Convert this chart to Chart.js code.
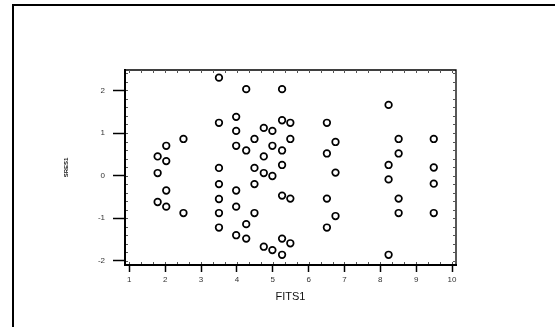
<!DOCTYPE html>
<html>
<head>
<meta charset="utf-8">
<script src="https://cdn.jsdelivr.net/npm/chart.js@4.4.1/dist/chart.umd.min.js"></script>
<style>
    html, body { margin: 0; padding: 0; background: #fff; }
    #wrap { position: relative; width: 555px; height: 327px; }
</style>
</head>
<body>
<div id="wrap"><canvas id="chart-resid" width="555" height="327"></canvas></div>
<script>
// values
const fits1 = [
    1.79, 1.79, 1.79,
    2.03, 2.03, 2.03, 2.03,
    2.51, 2.51,
    3.50, 3.50, 3.50, 3.50, 3.50, 3.50, 3.50,
    3.98, 3.98, 3.98, 3.98, 3.98, 3.98,
    4.26, 4.26, 4.26, 4.26,
    4.49, 4.49, 4.49, 4.49,
    4.75, 4.75, 4.75, 4.75,
    4.99, 4.99, 4.99, 4.99,
    5.26, 5.26, 5.26, 5.26, 5.26, 5.26, 5.26,
    5.49, 5.49, 5.49, 5.49,
    6.51, 6.51, 6.51, 6.51,
    6.75, 6.75, 6.75,
    8.23, 8.23, 8.23, 8.23,
    8.51, 8.51, 8.51, 8.51,
    9.49, 9.49, 9.49, 9.49
];
const sres1 = [
    0.45, 0.06, -0.62,
    0.70, 0.34, -0.35, -0.73,
    0.86, -0.88,
    2.30, 1.24, 0.18, -0.20, -0.55, -0.88, -1.22,
    1.38, 1.05, 0.70, -0.35, -0.73, -1.40,
    2.03, 0.59, -1.14, -1.48,
    0.86, 0.18, -0.20, -0.88,
    1.12, 0.45, 0.06, -1.67,
    1.05, 0.70, -0.01, -1.75,
    2.03, 1.30, 0.59, 0.25, -0.47, -1.48, -1.86,
    1.24, 0.86, -0.54, -1.59,
    1.24, 0.52, -0.54, -1.22,
    0.79, 0.07, -0.95,
    1.66, 0.25, -0.09, -1.86,
    0.86, 0.52, -0.54, -0.88,
    0.86, 0.19, -0.19, -0.88
];
const xTicks = [1, 2, 3, 4, 5, 6, 7, 8, 9, 10];
const yTicks = [-2, -1, 0, 1, 2];
const xTitle = 'FITS1';
const yTitle = 'SRES1';

const fontFamily = '"Liberation Sans", Arial, sans-serif';

// outer frame + top/right border + small inner ticks
const framePlugin = {
    id: 'frame',
    beforeDraw(chart) {
        const ctx = chart.ctx;
        ctx.save();
        ctx.strokeStyle = '#000';
        ctx.lineWidth = 2;
        ctx.beginPath();
        ctx.moveTo(13, 327);
        ctx.lineTo(13, 5);
        ctx.lineTo(555, 5);
        ctx.stroke();
        ctx.restore();
    },
    afterDraw(chart) {
        const ctx = chart.ctx;
        const a = chart.chartArea;
        const xs = chart.scales.x, ys = chart.scales.y;
        ctx.save();
        ctx.strokeStyle = '#000';
        ctx.lineWidth = 1.3;
        ctx.beginPath();
        ctx.moveTo(a.left, a.top);
        ctx.lineTo(a.right, a.top);
        ctx.lineTo(a.right, a.bottom);
        ctx.stroke();

        ctx.strokeStyle = '#555';
        ctx.lineWidth = 1;
        ctx.beginPath();
        for (let v = -2; v <= 2.4; v += 0.2) {
            const py = Math.round(ys.getPixelForValue(v)) + 0.5;
            if (py < a.top + 2 || py > a.bottom - 2) continue;
            ctx.moveTo(a.left + 1, py); ctx.lineTo(a.left + 3, py);
            ctx.moveTo(a.right - 3, py); ctx.lineTo(a.right, py);
        }
        for (let v = 1; v <= 10.1; v += 1 / 3) {
            const px = Math.round(xs.getPixelForValue(v)) + 0.5;
            if (px < a.left + 2 || px > a.right - 2) continue;
            ctx.moveTo(px, a.top); ctx.lineTo(px, a.top + 3);
            ctx.moveTo(px, a.bottom - 3); ctx.lineTo(px, a.bottom - 1);
        }
        ctx.stroke();
        ctx.restore();
    }
};

function drawResidPlot(id) {
    const ctx = document.getElementById(id);
    return new Chart(ctx, {
        type: 'scatter',
        data: {
            datasets: [{
                label: yTitle,
                data: fits1.map((x, i) => ({ x: x, y: sres1[i] })),
                backgroundColor: '#fff',
                borderColor: '#000',
                borderWidth: 1.7,
                pointRadius: 3.3,
                pointHoverRadius: 3.3
            }]
        },
        options: {
            responsive: false,
            animation: false,
            events: [],
            layout: {
                padding: { left: 55, top: 70, right: 99, bottom: 17 }
            },
            plugins: {
                legend: { display: false },
                tooltip: { enabled: false }
            },
            scales: {
                x: {
                    type: 'linear',
                    min: 0.88,
                    max: 10.11,
                    afterFit: function (scale) { scale.height = 45; },
                    afterBuildTicks: function (scale) {
                        scale.ticks = xTicks.map(v => ({ value: v }));
                    },
                    grid: {
                        drawOnChartArea: false,
                        drawTicks: true,
                        tickLength: 7,
                        tickColor: '#000',
                        tickWidth: 1.5
                    },
                    border: { display: true, color: '#000', width: 2 },
                    ticks: {
                        color: '#333',
                        padding: 3,
                        maxRotation: 0,
                        font: { family: fontFamily, size: 8 }
                    },
                    title: {
                        display: true,
                        text: xTitle,
                        color: '#111',
                        padding: { top: 0, bottom: 6 },
                        font: { family: fontFamily, size: 11 }
                    }
                },
                y: {
                    type: 'linear',
                    min: -2.1,
                    max: 2.48,
                    afterFit: function (scale) { scale.width = 70; },
                    afterBuildTicks: function (scale) {
                        scale.ticks = yTicks.map(v => ({ value: v }));
                    },
                    grid: {
                        drawOnChartArea: false,
                        drawTicks: true,
                        tickLength: 12,
                        tickColor: '#000',
                        tickWidth: 1.5
                    },
                    border: { display: true, color: '#000', width: 2 },
                    ticks: {
                        color: '#333',
                        padding: 8,
                        font: { family: fontFamily, size: 8 }
                    },
                    title: {
                        display: true,
                        text: yTitle,
                        color: '#111',
                        padding: { top: 8, bottom: 0 },
                        font: { family: fontFamily, size: 6, weight: 'bold' }
                    }
                }
            }
        },
        plugins: [framePlugin]
    });
}

drawResidPlot('chart-resid');
</script>
</body>
</html>
